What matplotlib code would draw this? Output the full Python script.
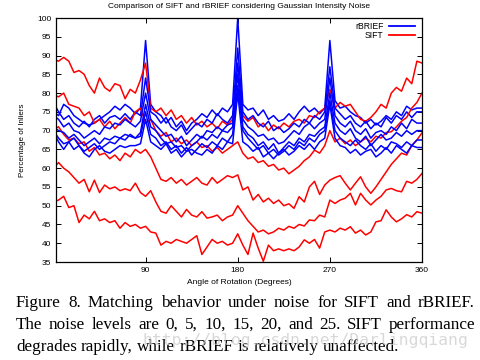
import numpy as np
import matplotlib
matplotlib.use("Agg")
import matplotlib.pyplot as plt

angles = list(range(0, 361, 5))

# rBRIEF curves (noise 0..25)
rbrief_0 = [75, 74, 77, 76, 74, 73, 72, 71.5, 72, 73, 74, 75, 76.5, 75.5, 77, 76, 74.5, 76, 94,
            77, 75, 74, 72, 73.5, 71, 72.5, 70, 72, 73, 74.5, 73.5, 75.5, 74, 76, 75, 77, 100,
            77, 75.5, 76, 74, 75.5, 73, 74, 72.5, 73, 74.5, 73, 75, 76.5, 75, 76, 74.5, 76, 94,
            78, 76, 76.5, 75, 74, 73.5, 72, 73, 71.5, 72.5, 74, 73, 75, 74, 76.5, 75.5, 76, 76]
rbrief_5 = [77.5, 75, 73, 74, 72, 71, 72.5, 71, 73, 74, 72, 73.5, 74, 73, 74.5, 73, 75, 74, 84,
            75, 74, 72, 73.5, 71, 70, 71.5, 69, 70.5, 72, 71, 73, 72, 74.5, 73, 72, 74, 92,
            75, 73, 74, 72, 71, 72.5, 70, 71, 69.5, 70.5, 72, 71, 73, 72, 74, 73, 75, 87,
            76, 74.5, 73, 74, 72, 71, 72.5, 70.5, 72, 71, 73.5, 72, 74, 73, 75, 73.5, 75, 75]
rbrief_10 = [74, 73, 71, 72, 70, 69.5, 68, 69, 70, 69, 71, 70.5, 72, 71.5, 73, 72, 71, 72.5, 80,
             73, 71.5, 70, 68.5, 69, 67, 68.5, 66, 67.5, 69, 68, 70, 69.5, 71, 70, 71.5, 72, 88,
             73, 71, 70, 68.5, 69, 67.5, 68, 66.5, 67, 68.5, 70, 69, 71, 72, 70.5, 72, 73, 84,
             74, 72, 71, 72.5, 70, 69, 70.5, 68, 69.5, 70, 69, 71, 70, 72, 70.5, 73, 72, 72]
rbrief_15 = [71, 70, 69.5, 68, 69, 67.5, 66, 67, 68, 66.5, 68, 67.5, 68.5, 68, 69, 68.5, 68, 69.5, 77,
             71, 70, 68, 66.5, 67, 65.5, 66, 64.5, 66, 67, 68.5, 67.5, 69, 68, 70, 69.5, 71, 85,
             71, 69, 68, 66, 67, 65, 66.5, 64, 65.5, 67, 66, 68, 67, 69, 68.5, 70, 71, 80,
             72, 70, 69, 70.5, 68, 67, 68.5, 66, 67.5, 69, 67.5, 68, 69.5, 68.5, 70, 69, 70, 70]
rbrief_20 = [70, 68, 66.5, 67, 65, 66, 64.5, 65.5, 66.5, 65, 66, 67, 66.5, 68, 67.5, 69, 68, 68.5, 75,
             69, 68, 66, 67, 65, 66, 64, 65.5, 63.5, 65, 66.5, 65.5, 67, 66, 68, 67, 69, 82,
             70, 68, 66.5, 65, 66, 64, 65, 63.5, 64.5, 66, 65, 67, 66, 68, 67, 69, 70, 78,
             70, 68, 67, 66, 67.5, 66, 65, 66.5, 64.5, 66, 65, 67, 66.5, 65.5, 67, 66, 67.5, 67.5]
rbrief_25 = [69.5, 67, 65, 67, 68, 66, 64, 63, 65, 66, 64.5, 64, 65, 66, 65.5, 66, 66, 66.5, 73,
             67, 66, 65, 66.5, 64, 65, 63, 64.5, 65, 64, 63.5, 65, 64, 66, 65, 67, 66.5, 80,
             67, 66, 64.5, 65.5, 63, 64, 62.5, 64, 65, 63.5, 64.5, 66, 65, 66.5, 65, 67, 68, 77,
             68, 66, 65.5, 64, 65, 63.5, 64.5, 65, 63, 64, 65.5, 64, 66, 65, 64, 66, 65.5, 65.5]

# SIFT curves (visible noise levels)
sift_0 = [89, 88.5, 89.5, 88.5, 85.5, 86, 85, 82, 80, 84, 81.5, 80.5, 82.5, 82, 78.5, 81, 80, 83.5, 88,
          76, 75, 76, 74, 75.5, 73, 74, 72, 73.5, 71.5, 72.5, 71, 72, 70.5, 72.5, 71.5, 73, 79,
          74, 72.5, 73.5, 71, 72, 70, 71.5, 70.5, 72, 71, 72.5, 73, 72, 74, 73.5, 75, 76, 81,
          76, 77.5, 76.5, 77, 75, 73, 72.5, 73.5, 75, 77, 76, 80, 81.5, 80.5, 84, 82.5, 88.5, 88]
sift_5 = [79.5, 79, 80, 77, 76.5, 76, 74, 75, 72, 73, 71, 72.5, 70.5, 72, 73.5, 72, 75, 76, 72,
          73, 70, 68.5, 69.5, 67, 68, 66.5, 67.5, 66, 67, 65.5, 66, 64.5, 65.5, 64, 65, 66, 67,
          64, 62.5, 63, 61.5, 62, 60.5, 61, 59.5, 60, 58.5, 59.5, 60.5, 62, 63, 64.8, 64, 66, 70,
          67, 68, 66.5, 67.5, 66, 67, 68, 67, 68.5, 68, 69.5, 69.7, 71, 72.5, 73.5, 76, 77.5, 80]
sift_10 = [70.5, 71, 69, 67.5, 68, 66.5, 67, 64.5, 65.5, 63.5, 64, 62.5, 63.5, 62, 64, 63, 65, 64, 65,
           63, 60, 57, 56.5, 57.5, 56, 57, 55.5, 56.5, 57.5, 56, 55.5, 57.5, 56, 57, 58, 57.5, 58.2,
           54.2, 55, 51.5, 53, 51, 52, 50.6, 51.5, 50, 50.5, 49.3, 52.4, 51, 55, 56.5, 53, 55.5, 56.8,
           57.5, 58, 56, 54.2, 56, 57.7, 55, 53.3, 55, 57, 59, 61, 62.5, 64, 63.5, 66, 67.5, 69.4]
sift_15 = [60, 61.5, 60, 59, 57.5, 56, 57, 53.7, 56.8, 53.5, 55.5, 54.5, 55, 54, 54.5, 54, 56, 53.5, 52.5,
           54, 51, 48.5, 48, 50, 48.5, 47, 49, 47.5, 47, 48.4, 46.7, 47, 47.5, 46, 47, 47.5, 50,
           48, 46, 44.5, 43, 43.5, 42.5, 43, 44, 43.5, 44.5, 44, 45, 44.6, 46.2, 46, 47.5, 47, 51.5,
           50.6, 51.5, 52, 53.3, 50.2, 53.3, 51.5, 50.2, 51.5, 52.5, 54.2, 54.6, 54, 53.7, 56.5, 56, 57, 58.6]
sift_20 = [51, 51.5, 52.5, 49.5, 50, 45.5, 47.5, 46.5, 48.5, 46, 46.5, 45.5, 46, 44, 45.5, 44.5, 45, 44, 44.5,
           43, 42.7, 39.5, 40.5, 40, 41, 40.5, 40, 41, 42, 37, 39, 41, 40, 40.5, 39.5, 40, 42.5,
           39.5, 37, 42.7, 38.7, 35.2, 39.5, 38, 38.5, 38, 38.5, 38, 39, 40.9, 40, 41, 38.7, 43, 43.5,
           43, 44, 43.5, 44.4, 42.7, 43.5, 42.2, 43, 45.7, 46, 48.9, 47, 45.7, 46.5, 47.6, 47, 48.4, 48]

xticks = [90, 180, 270, 360]
yticks = list(range(35, 101, 5))

W, H = 481, 360
fig = plt.figure(figsize=(W / 100, H / 100), dpi=100)
ax = fig.add_axes([56 / W, (H - 262) / H, 366 / W, 244 / H])

lw = 1.1
rb = [rbrief_0, rbrief_5, rbrief_10, rbrief_15, rbrief_20, rbrief_25]
sf = [sift_0, sift_5, sift_10, sift_15, sift_20]
for i in range(6):
    ax.plot(angles, rb[i], color='#0000ff', lw=lw, label='rBRIEF' if i == 0 else None, zorder=2)
    if i < len(sf):
        ax.plot(angles, sf[i], color='#ff0000', lw=lw, label='SIFT' if i == 0 else None, zorder=2)

ax.set_xlim(2.5, 360)
ax.set_ylim(35, 100)
ax.set_xticks(xticks)
ax.set_yticks(yticks)
tick_font = dict(family='Liberation Sans', size=6)
ax.set_xticklabels([str(t) for t in xticks], **tick_font)
ax.set_yticklabels([str(t) for t in yticks], **tick_font)
ax.tick_params(direction='in', top=True, right=True, length=3.5, width=0.7, pad=3.5)
for s in ax.spines.values():
    s.set_linewidth(0.9)

ax.set_xlabel('Angle of Rotation (Degrees)', fontsize=6, family='Liberation Sans', labelpad=4)
ax.set_ylabel('Percentage of Inliers', fontsize=5.8, family='Liberation Sans', labelpad=8)
fig.text(239 / W, 1 - 6.5 / H, 'Comparison of SIFT and rBRIEF considering Gaussian Intensity Noise',
         ha='center', va='center', fontsize=6, family='Liberation Sans')

leg = ax.legend(loc='upper right', frameon=False, markerfirst=False,
                prop=dict(family='Liberation Sans', size=6.2), handlelength=3.0,
                borderaxespad=0, borderpad=0, labelspacing=0.0, handletextpad=0.6,
                bbox_to_anchor=(0.98, 0.985))
for h in leg.get_lines():
    h.set_linewidth(1.3)

# Caption (justified)
fig.canvas.draw()
r = fig.canvas.get_renderer()
cap_font = dict(family='Liberation Serif', size=12.3, color='black')
lines = [
    ("Figure 8. Matching behavior under noise for SIFT and rBRIEF.", True, 303),
    ("The noise levels are 0, 5, 10, 15, 20, and 25.  SIFT performance", True, 325),
    ("degrades rapidly, while rBRIEF is relatively unaffected.", False, 347),
]
left, right = 16, 475
sp = fig.text(0, 0, 'a a', **cap_font)
sp2 = fig.text(0, 0, 'aa', **cap_font)
space = sp.get_window_extent(r).width - sp2.get_window_extent(r).width
sp.remove(); sp2.remove()
for txt, just, ypix in lines:
    words = txt.split()
    ts = [fig.text(0, 1 - ypix / H, w, ha='left', va='center', **cap_font) for w in words]
    widths = [t.get_window_extent(r).width for t in ts]
    gap = (right - left - sum(widths)) / (len(words) - 1) if just else space
    x = left
    for t, w in zip(ts, widths):
        t.set_x(x / W)
        x += w + gap

fig.text(142 / W, 1 - 340 / H, 'http://blog.csdn.net/Darlingqiang', ha='left', va='center',
         family='DejaVu Sans Mono', fontsize=11.8, color='#cccccc', alpha=0.75, zorder=10)

fig.savefig('out.png', dpi=100)
